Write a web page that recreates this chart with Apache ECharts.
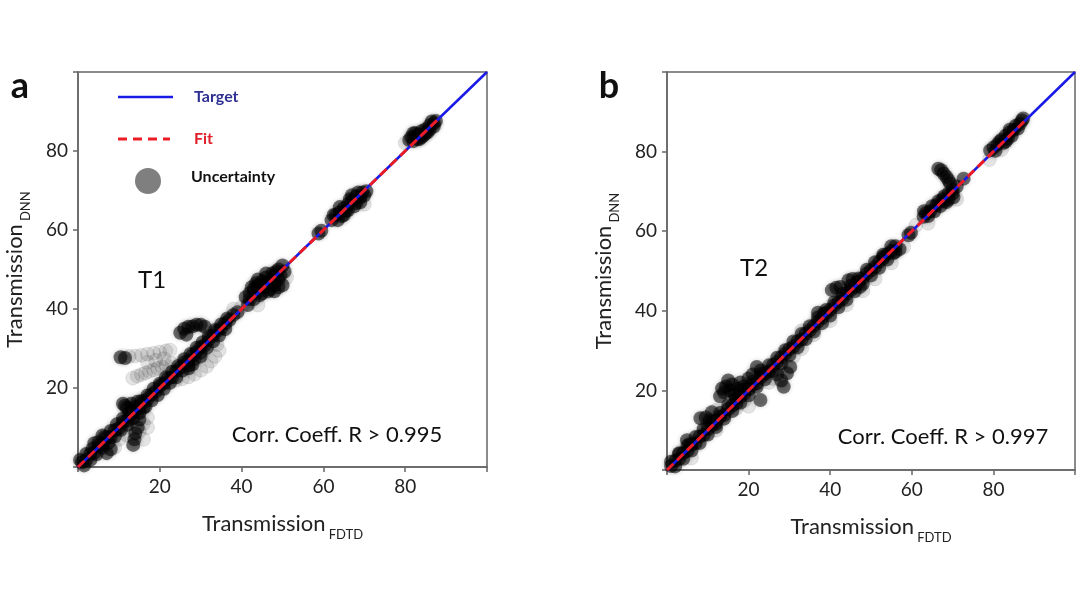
<!DOCTYPE html>
<html lang="en" style="height: 100%">
<head>
  <meta charset="utf-8">
</head>
<body style="height: 100%; margin: 0; background: #fff">
<div id="container" style="height: 100%"></div>

<script type="text/javascript" src="https://cdn.jsdelivr.net/npm/echarts@6/dist/echarts.min.js"></script>

<script type="text/javascript">
  // tick labels shared by both panels
  var tickLabels = [20, 40, 60, 80];

  // reference lines [x, y]
  var targetLine = [[0, 0], [100, 100]];
  var fitLineA = [[0, 0], [88, 88]];
  var fitLineB = [[0, 0], [88, 88]];

  // panel a (T1) : confident (dark) and uncertain (faint) predictions
  var darkA = [
    [1,1.2],[2,1.8],[3,3.3],[4,3.6],[5,5.4],[6,5.7],[7,7.4],[8,7.6],[9,9.3],[10,9.8],
    [11,11.4],[12,11.7],[13,13.3],[14,14.4],[15,15.2],[16,16.5],[17,17.2],[18,18.4],[19,19.1],[20,20.5],
    [21,21.2],[22,22.4],[23,22.8],[24,24.3],[25,25.2],[26,26.5],[27,26.8],[28,28.3],[29,29.2],[30,30.4],
    [31,30.8],[32,32.3],[33,33.2],[34,34.4],[35,35.1],[36,36.4],[37,37.2],
    [0.5,1.8],[2,3.3],[3.5,4.6],[5,6.3],[6.5,7.6],[8,9.1],[9.5,10.8],[11,12.3],[12.5,13.6],[14,15.2],
    [15.5,16.7],[17,18.1],[18.5,19.8],[20,21.1],[21.5,22.7],[23,24.1],[24.5,25.6],[26,27.3],[27.5,28.6],[29,30.2],
    [30.5,31.6],[32,33.1],[33.5,34.7],[35,36.1],[36.5,37.6],
    [1.5,0.4],[3,1.8],[4.5,3.2],[6,4.9],[7.5,6.2],[9,7.8],[10.5,9.4],[12,10.7],[13.5,12.4],[15,13.7],
    [16.5,15.3],[18,16.9],[19.5,18.2],[21,19.8],[22.5,21.3],[24,22.7],[25.5,24.4],[27,25.7],[28.5,27.3],[30,28.9],
    [31.5,30.2],[33,31.8],[34.5,33.3],[36,34.9],
    [4,6],[6,8],[7,3.5],[8,4.5],
    [13.5,5.6],[13.8,7],[14,8.5],[14.6,10],[15,12],[13,13.5],[12,15],[11,16],[11.5,15.5],[13,16],[14.5,16.5],[16,15],
    [10.4,27.8],[11.5,27.6],
    [25,34],[26,35],[27,35.5],[28,35.6],[29,36],[30,36],[31,35.5],[26.5,33.5],
    [27,25],[28,26],[30,28],
    [38,38.5],[39,39.2],
    [41,43],[42,44],[43,45],[43,42.5],[44,46],[45,44],[45,47],[46,46.5],[46,48],[47,47],
    [47,45],[48,48.5],[48,46],[49,47.5],[49,50],[50,51],[50,46],[44.5,43.5],[41.5,41],
    [42.5,45.5],[43.5,46.5],[44,44.5],[45.5,45.5],[46.5,44.5],[47.5,49],[48.5,49.5],[49.5,48.5],[50.5,49.5],[48,44.5],
    [49,45.5],[42,42.5],[44,47.5],[46,49],
    [58.8,59.1],[59.5,59.8],
    [62,62.5],[63,63.8],[64,64.5],[65,65.5],[65.5,64.8],[66,66.5],[67,67.5],[67.5,66],[68,68.5],[69,68.2],
    [69.5,69.5],[70,68.8],[66.5,67.8],[64.5,63.5],
    [63.5,62.5],[64,65.8],[65,63.8],[66,65],[67,68.8],[68,66.8],[68.5,69.5],[69,67],[70.5,69.8],[62.5,63.8],
    [81.5,83.5],[82,82.5],[83,84],[83.5,83],[84,85],[85,85.5],[85.5,84.8],[86,86.5],[87,87],[87.5,87.6],
    [82.5,84.5],[84.5,84],[82,84.5],[83,83],[84,83.5],[85,84.5],[86,85.5],[86.5,87.5],[87,86.2],[81,82.8]
  ];
  var faintA = [
    [12.5,28],[14,28.1],[15.5,28.3],[17,28.6],[18.5,28.8],[20,29.1],[21.5,29.4],[22.5,29.6],
    [13.4,22.5],[14.5,23],[15.5,23.4],[16.5,23.8],[17.5,24.2],[18.5,24.6],[19.5,25],[20.5,25.4],[21.5,25.8],[23,26.2],
    [17,26.5],[19,27],[21,27.4],
    [24,22],[25.5,22.3],[27,22.8],[28.5,23.5],[30,24.5],[31.5,25.5],[32.5,26.8],[33.5,28],[34.5,29.5],[34,31],
    [15,9],[16,11],[17,12.5],[12,8],[16,7],[9,5],[10,7],[15,14],[17,10],
    [38,40],[40,40.5],[44,41],[51,48],[70,66.5],[80,82]
  ];

  // panel b (T2)
  var darkB = [
    [1,1],[2,2.3],[3,2.8],[4,4.3],[5,4.8],[6,6.3],[7,6.8],[8,8.4],[9,8.8],[10,10.3],
    [11,11.2],[12,11.6],[13,13.4],[14,13.8],[15,15.3],[16,16.2],[17,16.8],[18,18.4],[19,19.2],[20,20.3],
    [21,21.4],[22,21.8],[23,23.3],[24,24.2],[25,24.8],[26,26.4],[27,27.1],[28,28.3],[29,29.2],[30,30.4],
    [31,31],[32,32.3],[33,32.8],[34,34.3],[35,35.1],[36,36.2],[37,37.3],[38,38.2],[39,39.4],[40,40.2],
    [41,41.3],[42,42.2],[43,43],[44,44.3],[45,45.2],[46,46],[47,47.3],[48,48.2],[49,49.4],[50,50.2],
    [51,51],[52,52.3],[53,53.2],[54,54.3],[55,55],[56,56.2],
    [1,2.1],[3,4.2],[5,6.1],[7,8.3],[9,10.2],[11,12.1],[13,14.3],[15,16.2],[17,18.1],[19,20.3],
    [21,22.2],[23,24.1],[25,26.3],[27,28.2],[29,30.1],[31,32.3],[33,34.2],[35,36.1],[37,38.3],[39,40.2],
    [41,42.1],[43,44.3],[45,46.2],[47,48.1],[49,50.3],[51,52.2],[53,54.1],[55,56.2],
    [2,0.9],[4,2.8],[6,4.9],[8,6.8],[10,8.9],[12,10.8],[14,12.9],[16,14.8],[18,16.9],[20,18.8],
    [22,20.9],[24,22.8],[26,24.9],[28,26.8],[30,28.9],[32,30.8],[34,32.9],[36,34.8],[38,36.9],[40,38.8],
    [42,40.9],[44,42.8],[46,44.9],[48,46.8],[50,48.9],[52,50.8],[54,52.9],[56,54.8],
    [4.9,7.5],[5.5,6.5],[3,4],
    [8.2,13],[9.5,13.2],[10.5,12.5],[12.2,12.5],[11,14.5],
    [13,18.5],[14,19.5],[14.5,21],[15.5,20],[16,21.5],[16.5,19],[17.5,20.5],[18,22],[15,22.5],[13.5,20.5],
    [18.8,21],[17,18],
    [22.9,17.6],[22,25.9],[21,24],[23,25],[20,23],
    [28.6,20.9],[29.4,24.3],[30.2,25.9],[28,22.5],[27,24],
    [38.4,39.3],[37,39.5],
    [40.4,45.2],[41.5,45.8],[42.5,46],[44.5,47.7],[45.5,48],[47.3,46],[46.5,47],
    [53,53.6],[55.5,54.5],[57,55.5],
    [59.2,59],[59.8,59.6],
    [62.9,63.6],[63.5,64.5],[64.5,65],[65,66.3],[66,66.5],[66.5,67.5],[67.5,68],[68,68.8],[69,69.5],[70,69.5],
    [70.2,68.5],[68.5,67.3],[71,71.2],[72.7,73.2],
    [63,65],[64,63.8],[65.5,65],[67,66.3],[68,67.5],[69,68],[70,70.5],
    [66.5,75.7],[67.2,75.3],[67.8,74.5],[68.5,73.6],[69,72.8],[69.4,72],
    [79.2,80.3],[80,81],[81,81.8],[82,83],[82.5,82.2],[83,84],[84,84.8],[85,85.5],[85.5,86.5],[86.5,87],
    [87.3,88.3],[83.5,83.2],
    [80.5,80.2],[81.5,82.5],[83,82.5],[84.5,84],[86,85.8],[87,87.8],[84,85.5]
  ];
  var faintB = [
    [6,3],[9,10.5],[12,10],[20,16],[25,22],[33,30.5],[36,34],[51,48],[61,61.5],
    [10,11.8],[12,15],[17,15.5],[19,17.5],[26,23],[31,28.5],[33,35],[40,37.5],[44,41.5],[48,45],
    [55,52],[58,56],[64,62],[71,68],[79,78],[82,80.5]
  ];

  var dom = document.getElementById('container');
  var myChart = echarts.init(dom, null, { renderer: 'canvas' });

  var FONT = 'Lato';
  var axisColor = '#666';

  function axisName(main, sub) {
    return '{m|' + main + '} {s|' + sub + '}';
  }
  var nameStyle = {
    color: '#222',
    fontFamily: FONT,
    rich: {
      m: { fontSize: 22, lineHeight: 28, verticalAlign: 'top', fontFamily: FONT, color: '#222' },
      s: { fontSize: 13, lineHeight: 13, padding: [15, 0, 0, 0], verticalAlign: 'top', fontFamily: FONT, color: '#222' }
    }
  };

  function makeAxis(idx, sub, gap) {
    return {
      gridIndex: idx, type: 'value', min: 0, max: 100, interval: 20,
      name: axisName('Transmission', sub), nameLocation: 'middle', nameGap: gap,
      nameTextStyle: nameStyle,
      axisLine: { lineStyle: { color: axisColor, width: 1.5 } },
      axisTick: { show: true, length: 5, lineStyle: { color: axisColor, width: 1.5 } },
      axisLabel: {
        fontSize: 19, color: '#222', fontFamily: FONT, margin: 10,
        formatter: function (v) { return tickLabels.indexOf(v) >= 0 ? String(v) : ''; }
      },
      splitLine: { show: false }
    };
  }

  function darkSeries(idx, data) {
    return {
      type: 'scatter', xAxisIndex: idx, yAxisIndex: idx, data: data,
      symbolSize: 14, z: 2, silent: true,
      itemStyle: { color: 'rgba(0,0,0,0.68)', borderWidth: 0, shadowBlur: 4, shadowColor: 'rgba(0,0,0,0.35)' }
    };
  }
  function faintSeries(idx, data) {
    return {
      type: 'scatter', xAxisIndex: idx, yAxisIndex: idx, data: data,
      symbolSize: 14, z: 1, silent: true,
      itemStyle: { color: 'rgba(0,0,0,0.12)', borderColor: 'rgba(0,0,0,0.1)', borderWidth: 1, shadowBlur: 3, shadowColor: 'rgba(0,0,0,0.12)' }
    };
  }
  function targetSeries(idx) {
    return {
      type: 'line', xAxisIndex: idx, yAxisIndex: idx, data: targetLine,
      symbol: 'none', z: 3, silent: true,
      lineStyle: { color: '#1a1ae6', width: 2.5 }
    };
  }
  function fitSeries(idx, data) {
    return {
      type: 'line', xAxisIndex: idx, yAxisIndex: idx, data: data,
      symbol: 'none', z: 4, silent: true,
      lineStyle: { color: '#ec1c24', width: 3, type: [9, 5] }
    };
  }

  var option = {
    backgroundColor: '#fff',
    animation: false,
    grid: [
      { left: 78, top: 72, width: 409, height: 395, show: true, borderColor: axisColor, borderWidth: 1.5, backgroundColor: 'transparent' },
      { left: 667, top: 72, width: 408, height: 398, show: true, borderColor: axisColor, borderWidth: 1.5, backgroundColor: 'transparent' }
    ],
    xAxis: [makeAxis(0, 'FDTD', 46), makeAxis(1, 'FDTD', 46)],
    yAxis: [makeAxis(0, 'DNN', 46), makeAxis(1, 'DNN', 46)],
    series: [
      faintSeries(0, faintA), darkSeries(0, darkA), targetSeries(0), fitSeries(0, fitLineA),
      faintSeries(1, faintB), darkSeries(1, darkB), targetSeries(1), fitSeries(1, fitLineB)
    ],
    graphic: [
      { type: 'text', x: 20, y: 86, style: { text: 'a', font: 'bold 36px ' + FONT, fill: '#111', align: 'center', verticalAlign: 'middle' } },
      { type: 'text', x: 609, y: 86, style: { text: 'b', font: 'bold 36px ' + FONT, fill: '#111', align: 'center', verticalAlign: 'middle' } },
      // legend of panel a
      { type: 'line', shape: { x1: 118, y1: 97, x2: 173, y2: 97 }, style: { stroke: '#1a1ae6', lineWidth: 2.5 } },
      { type: 'text', x: 194, y: 97, style: { text: 'Target', font: 'bold 16px ' + FONT, fill: '#2e3192', verticalAlign: 'middle' } },
      { type: 'line', shape: { x1: 118, y1: 139, x2: 170, y2: 139 }, style: { stroke: '#ec1c24', lineWidth: 3, lineDash: [9, 6] } },
      { type: 'text', x: 194, y: 139, style: { text: 'Fit', font: 'bold 16px ' + FONT, fill: '#e0202a', verticalAlign: 'middle' } },
      { type: 'circle', shape: { cx: 148, cy: 181, r: 13 }, style: { fill: '#7f7f7f' } },
      { type: 'text', x: 191, y: 177, style: { text: 'Uncertainty', font: 'bold 16px ' + FONT, fill: '#111', verticalAlign: 'middle' } },
      // panel annotations
      { type: 'text', x: 152, y: 280, style: { text: 'T1', font: '24px ' + FONT, fill: '#111', align: 'center', verticalAlign: 'middle' } },
      { type: 'text', x: 337, y: 435, style: { text: 'Corr. Coeff. R > 0.995', font: '22px ' + FONT, fill: '#111', align: 'center', verticalAlign: 'middle' } },
      { type: 'text', x: 754, y: 268, style: { text: 'T2', font: '24px ' + FONT, fill: '#111', align: 'center', verticalAlign: 'middle' } },
      { type: 'text', x: 943, y: 437, style: { text: 'Corr. Coeff. R > 0.997', font: '22px ' + FONT, fill: '#111', align: 'center', verticalAlign: 'middle' } }
    ]
  };

  myChart.setOption(option);
  window.addEventListener('resize', myChart.resize);
</script>
</body>
</html>
